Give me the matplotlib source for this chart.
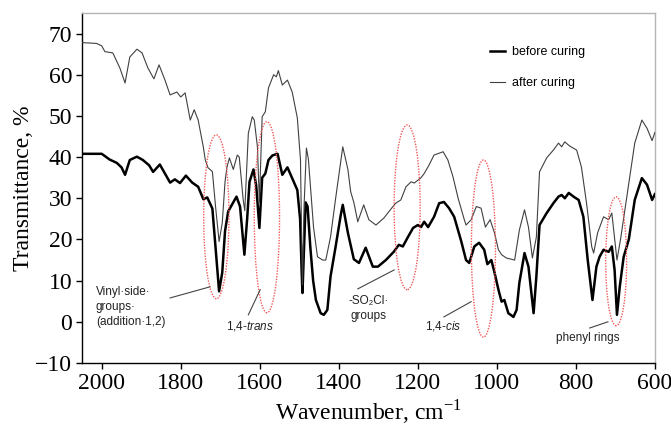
import matplotlib
matplotlib.use("Agg")
import matplotlib.pyplot as plt
from matplotlib.patches import Ellipse

# FTIR spectra: wavenumber (cm-1) and transmittance (%)
wn_before = [2050, 2000, 1980, 1962, 1950, 1941, 1929, 1911, 1896, 1880, 1870, 1853, 1840,
             1827, 1815, 1802, 1787, 1771, 1756, 1743, 1733, 1720, 1712, 1703, 1695, 1688,
             1680, 1670, 1659, 1650, 1639, 1632, 1626, 1616, 1609, 1601, 1594, 1586, 1578,
             1568, 1555, 1543, 1530, 1515, 1505, 1498, 1494, 1492, 1488, 1484, 1479, 1472,
             1465, 1458, 1446, 1438, 1429, 1421, 1408, 1395, 1390, 1377, 1362, 1349, 1332,
             1314, 1301, 1281, 1261, 1248, 1238, 1225, 1212, 1200, 1192, 1184, 1174, 1159,
             1146, 1134, 1121, 1108, 1090, 1078, 1070, 1057, 1045, 1032, 1024, 1014, 1006,
             996, 988, 981, 971, 958, 950, 943, 930, 920, 907, 900, 892, 874, 857, 844, 836,
             828, 818, 806, 793, 781, 770, 758, 748, 740, 730, 717, 709, 702, 696, 689, 679,
             666, 651, 633, 620, 607, 600]
t_before = [40.8, 40.8, 39.4, 38.6, 37.5, 35.7, 39.3, 40.1, 39.3, 38.0, 36.4, 38.2, 36.0,
            33.8, 34.6, 33.7, 35.5, 33.8, 32.8, 29.8, 30.2, 27.5, 18.0, 7.4, 12.0, 22.0,
            26.8, 28.5, 30.4, 28.0, 16.3, 25.0, 34.0, 37.0, 33.0, 22.8, 35.0, 36.0, 39.3,
            40.4, 40.8, 35.7, 37.5, 34.2, 32.0, 25.0, 12.0, 7.0, 18.0, 29.0, 28.0, 18.0,
            10.0, 5.3, 2.1, 1.7, 2.9, 11.0, 18.3, 26.0, 28.4, 21.6, 15.2, 14.3, 18.0,
            13.4, 13.4, 15.0, 17.0, 18.7, 18.3, 20.6, 22.8, 23.5, 23.0, 24.3, 23.0, 25.5,
            28.8, 29.1, 27.6, 25.5, 19.5, 15.0, 14.3, 18.3, 19.2, 17.5, 14.0, 15.0, 12.0,
            7.8, 4.9, 5.3, 2.1, 1.2, 2.9, 9.5, 16.7, 13.4, 2.1, 11.0, 23.5, 26.4, 28.8, 30.4,
            30.8, 30.0, 31.3, 30.4, 29.6, 25.5, 15.0, 5.3, 13.4, 15.8, 17.5, 17.0, 18.3,
            12.6, 1.7, 8.5, 15.8, 20.0, 29.6, 34.9, 33.3, 29.6, 31.0]

wn_after = [2050, 2013, 2000, 1992, 1972, 1954, 1941, 1929, 1911, 1898, 1883, 1868, 1855,
            1840, 1827, 1810, 1800, 1789, 1776, 1766, 1756, 1743, 1738, 1731, 1720, 1712,
            1703, 1695, 1688, 1683, 1677, 1667, 1657, 1652, 1642, 1638, 1629, 1619, 1614,
            1606, 1601, 1594, 1586, 1578, 1565, 1558, 1553, 1543, 1530, 1518, 1505, 1497,
            1494, 1492, 1488, 1482, 1477, 1464, 1454, 1441, 1433, 1421, 1408, 1390, 1377,
            1370, 1362, 1352, 1337, 1324, 1306, 1286, 1263, 1256, 1243, 1230, 1217, 1209,
            1192, 1184, 1172, 1159, 1136, 1124, 1111, 1098, 1083, 1078, 1065, 1052, 1040,
            1029, 1017, 1006, 996, 988, 976, 955, 943, 930, 920, 910, 900, 892, 874, 857,
            844, 836, 828, 816, 798, 786, 773, 760, 755, 745, 730, 717, 709, 696, 687, 676,
            664, 651, 633, 620, 607, 600]
t_after = [67.8, 67.6, 67.0, 65.6, 65.3, 61.6, 58.0, 64.3, 66.2, 65.3, 61.6, 59.0, 62.4,
           58.7, 55.1, 55.8, 54.6, 55.6, 49.0, 51.5, 49.0, 42.5, 39.3, 37.4, 36.5, 28.0,
           19.5, 24.0, 34.0, 37.6, 39.8, 37.0, 40.5, 40.0, 29.6, 27.0, 45.8, 49.8, 49.0,
           42.5, 29.0, 49.8, 51.0, 56.8, 60.0, 59.5, 61.0, 57.5, 58.7, 55.8, 49.5, 39.3,
           20.0, 9.0, 28.0, 42.2, 39.5, 23.0, 15.8, 15.0, 15.0, 20.6, 30.0, 42.5, 37.0,
           31.6, 29.0, 24.3, 28.4, 24.8, 23.5, 25.2, 28.0, 28.8, 29.6, 32.8, 34.0, 33.7,
           35.0, 36.0, 38.0, 40.5, 41.3, 39.3, 35.2, 30.0, 25.0, 23.5, 24.8, 28.0, 27.6,
           23.0, 24.8, 21.6, 17.5, 16.3, 15.5, 15.0, 22.3, 27.2, 23.0, 15.5, 20.6, 36.4,
           39.8, 41.7, 43.4, 42.5, 43.7, 42.7, 41.7, 37.6, 28.8, 18.3, 16.7, 21.6, 25.5,
           24.8, 26.4, 15.0, 20.0, 27.2, 35.2, 43.4, 49.0, 47.0, 44.0, 46.0]

series_labels = ["before curing", "after curing"]
x_ticks = [2000, 1800, 1600, 1400, 1200, 1000, 800, 600]
y_ticks = [-10, 0, 10, 20, 30, 40, 50, 60, 70]

# Highlighted band regions: (centre wavenumber, centre T, width, height)
band_centres = [1710, 1582, 1227, 1034, 698]
band_levels = [25.5, 25.4, 27.8, 17.8, 14.7]
band_widths = [64, 64, 66, 61, 53]
band_heights = [39.8, 46.4, 40.0, 43.0, 31.3]

band_texts = ["Vinyl\u00b7side\u00b7\ngroups\u00b7\n(addition\u00b71,2)",
              "1,4-$\\it{trans}$",
              "-SO\u2082Cl\u00b7\ngroups",
              "1,4-$\\it{cis}$",
              "phenyl rings"]

plt.rcParams["mathtext.fontset"] = "custom"
plt.rcParams["mathtext.rm"] = "Liberation Serif"
plt.rcParams["mathtext.it"] = "Liberation Sans:italic"

serif = ["Liberation Serif", "DejaVu Serif"]
sans = ["Liberation Sans", "DejaVu Sans"]

fig = plt.figure(figsize=(6.71, 4.32), dpi=100)
ax = fig.add_axes([0.1222, 0.1597, 0.8538, 0.8103])

ax.plot(wn_before, t_before, color="black", lw=1.8, label=series_labels[0], zorder=3)
ax.plot(wn_after, t_after, color="#404040", lw=0.8, label=series_labels[1], zorder=3)

for cx, cy, w, h in zip(band_centres, band_levels, band_widths, band_heights):
    ax.add_patch(Ellipse((cx, cy), w, h, fill=False, edgecolor="#f05a5a",
                         linestyle=(0, (1, 1)), lw=1.0, zorder=4))

ax.set_xlim(2050, 600)
ax.set_ylim(-10, 75)
ax.set_xticks(x_ticks)
ax.set_yticks(y_ticks)
ax.tick_params(direction="out", length=4, width=1, labelsize=17, pad=3)
for lab in ax.get_xticklabels() + ax.get_yticklabels():
    lab.set_family(serif)

for side in ("left", "bottom"):
    ax.spines[side].set_color("black")
    ax.spines[side].set_linewidth(1.0)
for side in ("top", "right"):
    ax.spines[side].set_color("#b4b4b4")
    ax.spines[side].set_linewidth(1.0)

ax.set_xlabel("Wavenumber, cm$^{-1}$", family=serif, fontsize=17, labelpad=3)
ax.set_ylabel("Transmittance, %", family=serif, fontsize=17, labelpad=1)

# Band labels with leader lines
text_kw = dict(family=sans, fontsize=8.5, color="#222222", zorder=5)
line_kw = dict(color="#444444", lw=0.8, zorder=5)

ax.text(2015, 3.6, band_texts[0], ha="left", va="center", linespacing=1.35, **text_kw)
ax.plot([1827, 1726], [5.8, 8.5], **line_kw)

ax.text(1624, -1.0, band_texts[1], ha="center", va="center", **text_kw)
ax.plot([1629, 1599], [1.7, 7.8], **line_kw)

ax.text(1324, 3.3, band_texts[2], ha="center", va="center", linespacing=1.35, **text_kw)
ax.plot([1352, 1260], [8.0, 12.6], **line_kw)

ax.text(1136, -1.0, band_texts[3], ha="center", va="center", **text_kw)
ax.plot([1134, 1065], [1.2, 4.9], **line_kw)

ax.text(770, -3.9, band_texts[4], ha="center", va="center", **text_kw)
ax.plot([765, 719], [-1.5, 0.0], **line_kw)

leg = ax.legend(loc="upper left", bbox_to_anchor=(0.712, 0.905), frameon=False,
                borderaxespad=0, borderpad=0, handlelength=1.2, handletextpad=0.6,
                labelspacing=1.5, prop={"family": sans, "size": 9})

fig.savefig("out.png", dpi=100)
